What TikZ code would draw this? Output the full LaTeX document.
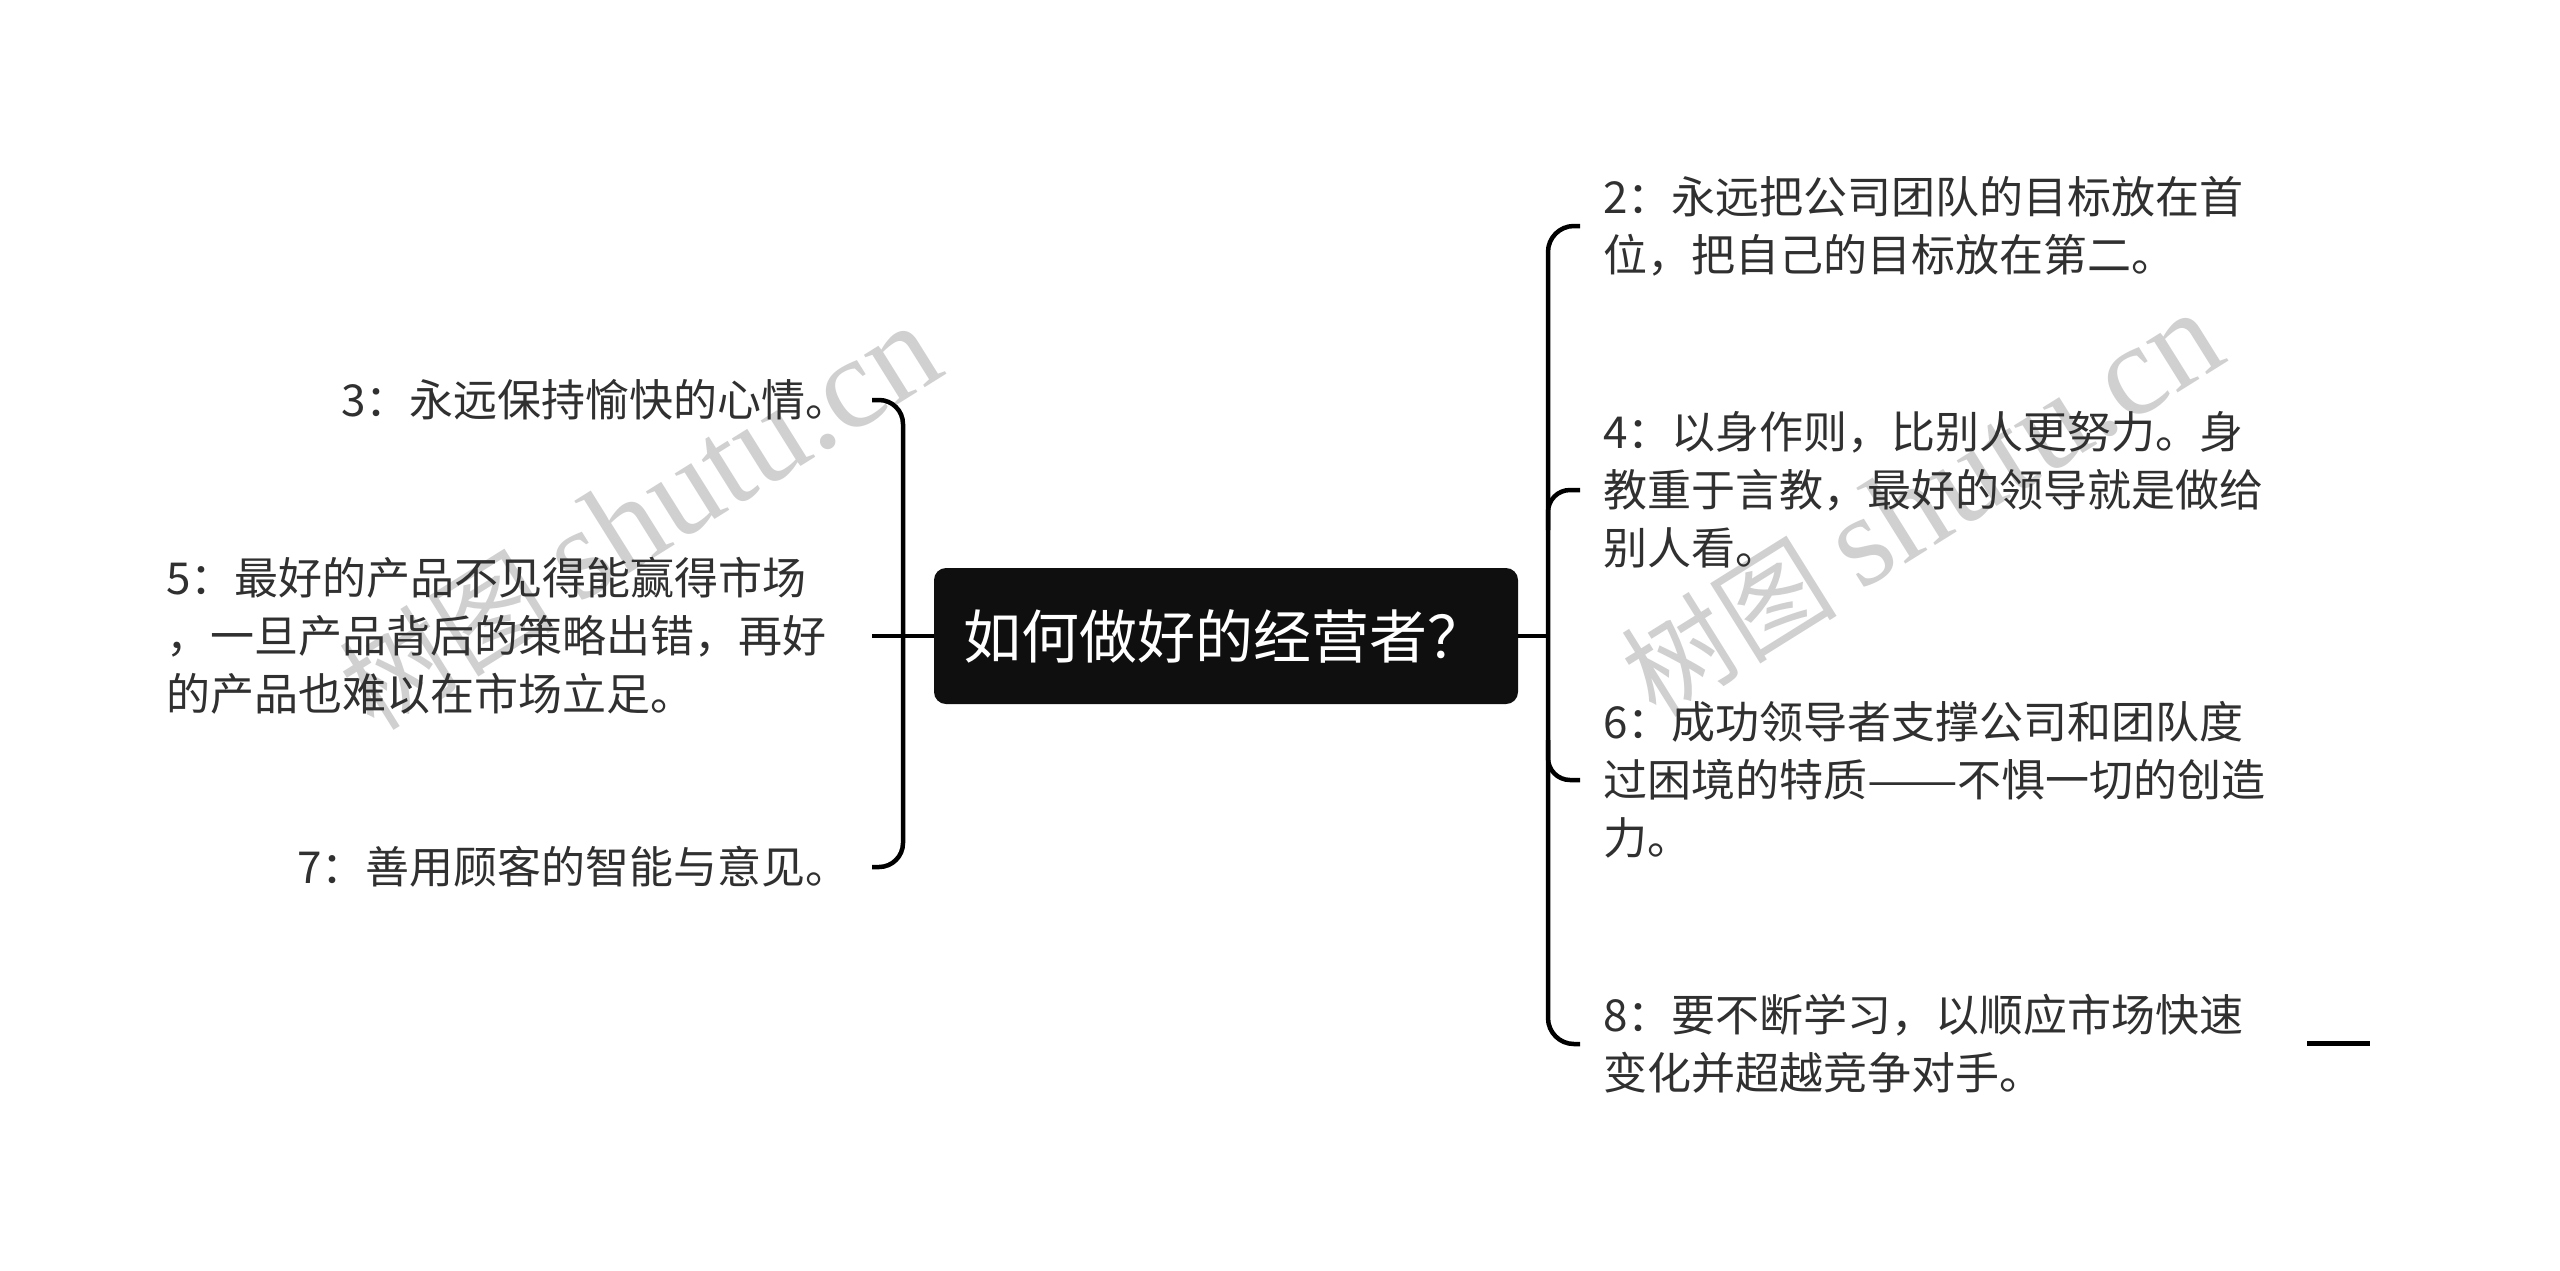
\documentclass[tikz,border=0pt]{standalone}
\usepackage{fontspec}
\usepackage{graphicx}
\setmainfont{Noto Sans CJK SC}
\newfontfamily\wmserif{Liberation Serif}
\definecolor{txt}{HTML}{303030}
\definecolor{wmgray}{HTML}{D0D0D0}
\definecolor{boxfill}{HTML}{0F0F0F}
\begin{document}
\begin{tikzpicture}[x=1pt,y=-1pt,
  br/.style={line width=4.5pt, draw=black},
  leaf/.style={anchor=west, inner sep=0pt, align=left, text=txt, font=\fontsize{44}{58}\selectfont},
  root/.style={fill=boxfill, rounded corners=12pt, minimum width=584pt, minimum height=136pt,
    text width=526pt, inner xsep=29pt, inner ysep=0pt, align=left, text=white,
    font=\fontsize{58}{62}\selectfont},
  wm/.style={text=wmgray, font=\fontsize{108}{108}\selectfont, rotate=32, inner sep=0pt}]
\useasboundingbox (0,0) rectangle (2560,1270);
\fill[white] (0,0) rectangle (2560,1270);

% watermarks
\node[wm] (wmL) at (640,518) {树图 {\wmserif\fontsize{130}{130}\selectfont shutu.cn}};
\node[wm] (wmR) at (1922,505) {树图 {\wmserif\fontsize{130}{130}\selectfont shutu.cn}};

% root
\node[root] (c) at (1226,636) {如何做好的经营者？};

% left leaves
\node[leaf] (n3) at (341,400) {3：永远保持愉快的心情。};
\node[leaf] (n5) at (166,636) {5：最好的产品不见得能赢得市场\\，一旦产品背后的策略出错，再好\\的产品也难以在市场立足。};
\node[leaf] (n7) at (297,867) {7：善用顾客的智能与意见。};

% right leaves
\node[leaf] (n2) at (1603,226) {2：永远把公司团队的目标放在首\\位，把自己的目标放在第二。};
\node[leaf] (n4) at (1603,490) {4：以身作则，比别人更努力。身\\教重于言教，最好的领导就是做给\\别人看。};
\node[leaf] (n6) at (1603,780) {6：成功领导者支撑公司和团队度\\过困境的特质\scalebox{1.23}[1]{——}不惧一切的创造\\力。};
\node[leaf] (n8) at (1603,1044) {8：要不断学习，以顺应市场快速\\变化并超越竞争对手。};

% connectors
\coordinate (lx) at (903,636);
\coordinate (lend) at (872,636);
\coordinate (rx) at (1548,636);
\coordinate (rend) at (1580,636);

\draw[br, rounded corners=24pt] (lend |- n3.west) -| (lx |- n7.west) -- (lend |- n7.west);
\draw[br] (c.west) -- (lend |- c.west);

\draw[br, rounded corners=26pt] (rend |- n2.west) -| (rx |- n8.west) -- (rend |- n8.west);
\draw[br] (c.east) -- (rx |- c.east);
\coordinate (j4) at (rx |- n4.west);
\coordinate (j6) at (rx |- n6.west);
\draw[br, rounded corners=22pt] ([yshift=-40pt]j4) |- (rend |- n4.west);
\draw[br, rounded corners=22pt] ([yshift=40pt]j6) |- (rend |- n6.west);

% stray segment
\coordinate (s1) at (2307,1043);
\coordinate (s2) at (2370,1043);
\draw[line width=5pt] (s1) -- (s2);
\end{tikzpicture}
\end{document}
